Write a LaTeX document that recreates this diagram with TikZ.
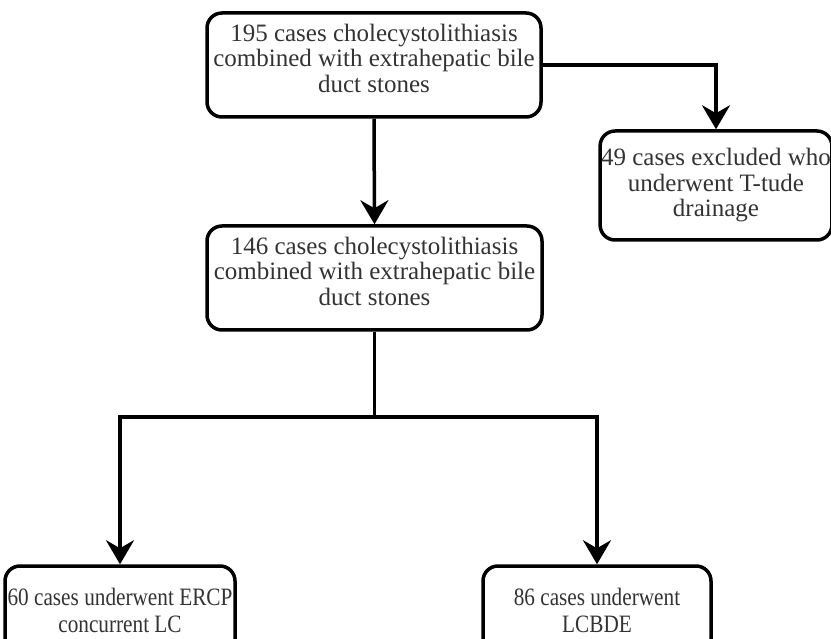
\documentclass[tikz,border=0pt]{standalone}
\usepackage{fontspec}
\setmainfont{Liberation Serif}
\newfontfamily\narrowserif[FakeStretch=0.85]{Liberation Serif}
\usetikzlibrary{arrows.meta,positioning}

\begin{document}
\begin{tikzpicture}[x=1pt, y=-1pt,
    stage/.style={rectangle, rounded corners=15pt, draw=black, line width=3.5pt, align=center, inner sep=1pt, text=black!80, font=\fontsize{25}{25.5}\selectfont},
    raised/.style={stage, text depth=14pt},
    result/.style={stage, font=\narrowserif\fontsize{25}{27}\selectfont},
    flow/.style={draw=black, line width=3.5pt, -{Stealth[length=24pt, width=28pt, inset=8pt]}}
    ]
    \useasboundingbox (0,0) rectangle (831,639);

    \node[raised, minimum width=334pt, minimum height=104pt] (total) at (374,65) {195 cases cholecystolithiasis\\combined with extrahepatic bile\\duct stones};
    \node[stage, minimum width=226pt, minimum height=109pt] (excl) at (716,185.5) {49 cases excluded who\\underwent T-tude\\drainage};
    \node[raised, minimum width=335pt, minimum height=104pt] (incl) at (374.5,278) {146 cases cholecystolithiasis\\combined with extrahepatic bile\\duct stones};

    \node[result, minimum width=230pt, minimum height=88pt] (ercp) at (120,610) {60 cases underwent ERCP\\concurrent LC};
    \node[result, minimum width=228pt, minimum height=88pt] (lcbde) at (597,610) {86 cases underwent\\LCBDE};

    \draw[flow] (total.south) -- (incl.north);
    \draw[flow] (total.east) -| (excl.north);

    \coordinate (split) at (incl.south |- 0,417);
    \draw[line width=3.5pt] (incl.south) -- (split);
    \draw[flow] (split) -| (ercp.north);
    \draw[flow] (split) -| (lcbde.north);
\end{tikzpicture}
\end{document}
